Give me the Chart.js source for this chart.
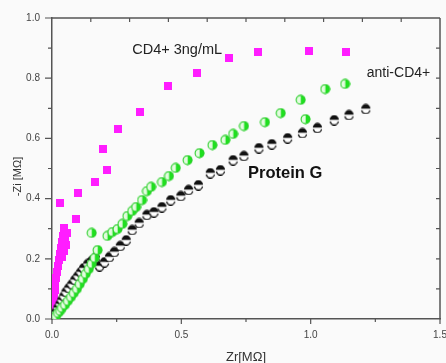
<!DOCTYPE html>
<html>
<head>
<meta charset="utf-8">
<script src="https://cdn.jsdelivr.net/npm/chart.js@4/dist/chart.umd.min.js"></script>
<style>
  html, body { margin: 0; padding: 0; background: #fafafa; }
  #wrap { width: 446px; height: 363px; }
</style>
</head>
<body>
<div id="wrap"><canvas id="c" width="446" height="363"></canvas></div>
<script>
// Nyquist data: Zr [MΩ] (x) against -Zi [MΩ] (y)
const seriesNames = ['CD4+ 3ng/mL', 'anti-CD4+', 'Protein G'];

const cd4X = [0.000, 0.004, 0.004, 0.008, 0.008, 0.011, 0.011, 0.015, 0.019, 0.023, 0.027, 0.031, 0.034, 0.038, 0.042, 0.046,
              0.040, 0.048, 0.055, 0.052, 0.058,
              0.092, 0.030, 0.100, 0.165, 0.214, 0.199, 0.256, 0.341, 0.448, 0.562, 0.685, 0.796, 0.995, 1.137];
const cd4Y = [0.000, 0.017, 0.037, 0.056, 0.076, 0.096, 0.116, 0.136, 0.156, 0.176, 0.196, 0.216, 0.236, 0.256, 0.276, 0.302,
              0.205, 0.225, 0.245, 0.265, 0.285,
              0.332, 0.385, 0.419, 0.455, 0.495, 0.565, 0.631, 0.688, 0.774, 0.817, 0.867, 0.887, 0.890, 0.887];

const antiX = [0.008, 0.015, 0.023, 0.031, 0.038, 0.050, 0.061, 0.073, 0.084, 0.096, 0.107, 0.119, 0.130, 0.142, 0.153, 0.165,
               0.176, 0.153, 0.214, 0.233, 0.253, 0.272, 0.291, 0.310, 0.325, 0.348, 0.367, 0.383, 0.425, 0.452, 0.478,
               0.524, 0.570, 0.620, 0.670, 0.700, 0.742, 0.823, 0.884, 0.961, 0.980, 1.056, 1.133];
const antiY = [0.003, 0.010, 0.020, 0.027, 0.037, 0.047, 0.060, 0.073, 0.086, 0.100, 0.116, 0.133, 0.150, 0.166, 0.183, 0.203,
               0.229, 0.286, 0.276, 0.289, 0.299, 0.316, 0.342, 0.359, 0.372, 0.395, 0.425, 0.439, 0.455, 0.475, 0.502,
               0.528, 0.551, 0.578, 0.595, 0.615, 0.641, 0.654, 0.684, 0.728, 0.664, 0.764, 0.781];

const protX = [0.004, 0.008, 0.015, 0.023, 0.031, 0.038, 0.046, 0.054, 0.065, 0.077, 0.088, 0.100, 0.111, 0.122, 0.138, 0.153,
               0.168, 0.184, 0.203, 0.222, 0.241, 0.264, 0.287, 0.310, 0.337, 0.367, 0.394, 0.425, 0.459, 0.498, 0.528,
               0.566, 0.612, 0.651, 0.700, 0.742, 0.800, 0.850, 0.911, 0.968, 1.026, 1.091, 1.148, 1.213];
const protY = [0.003, 0.013, 0.023, 0.037, 0.050, 0.063, 0.076, 0.090, 0.103, 0.116, 0.130, 0.143, 0.156, 0.169, 0.183, 0.193,
               0.203, 0.176, 0.189, 0.206, 0.223, 0.243, 0.262, 0.296, 0.319, 0.346, 0.355, 0.372, 0.395, 0.409, 0.429,
               0.445, 0.485, 0.495, 0.528, 0.542, 0.568, 0.581, 0.601, 0.618, 0.635, 0.661, 0.678, 0.698];

// axis tick values
const xMajorTicks = [0, 0.5, 1.0, 1.5];
const xMinorTicks = [0.25, 0.75, 1.25];
const yMajorTicks = [0, 0.2, 0.4, 0.6, 0.8, 1.0];
const yMinorTicks = [0.1, 0.3, 0.5, 0.7, 0.9];
const topTicks = [0.15, 0.30, 0.45, 0.60, 0.75, 0.90, 1.05, 1.20, 1.35];
const rightTicks = [0.1, 0.2, 0.3, 0.4, 0.5, 0.6, 0.7, 0.8, 0.9];

const toPoints = (xs, ys) => xs.map((x, i) => ({ x: x, y: ys[i] }));

// marker images
function squareMarker(color, size) {
  const c = document.createElement('canvas');
  c.width = size; c.height = size;
  const g = c.getContext('2d');
  g.fillStyle = color;
  g.fillRect(0, 0, size, size);
  return c;
}
function topHalfMarker() {
  const c = document.createElement('canvas');
  c.width = 11; c.height = 11;
  const g = c.getContext('2d');
  g.fillStyle = '#ffffff';
  g.beginPath(); g.arc(5.5, 6, 4.3, 0, Math.PI * 2); g.fill();
  g.fillStyle = '#111111';
  g.beginPath(); g.arc(5.5, 5.2, 4.6, Math.PI, Math.PI * 2); g.closePath(); g.fill();
  g.strokeStyle = '#111111'; g.lineWidth = 1.2;
  g.beginPath(); g.arc(5.5, 6.3, 4.1, 0.15, Math.PI - 0.15); g.stroke();
  return c;
}
function rightHalfMarker() {
  const c = document.createElement('canvas');
  c.width = 11; c.height = 11;
  const g = c.getContext('2d');
  g.fillStyle = '#e4fbe0';
  g.beginPath(); g.arc(5.5, 5.5, 4.5, 0, Math.PI * 2); g.fill();
  g.fillStyle = '#1fe01f';
  g.beginPath(); g.arc(5.7, 5.5, 4.7, -Math.PI / 2, Math.PI / 2); g.closePath(); g.fill();
  g.strokeStyle = '#2fd02f'; g.lineWidth = 1.1;
  g.beginPath(); g.arc(5.5, 5.5, 4.4, 0, Math.PI * 2); g.stroke();
  return c;
}

const FONT = "'Liberation Sans', Arial, sans-serif";

// frame, inward/outward ticks, y-axis title and series notes
const framePlugin = {
  id: 'frame',
  afterDraw(chart, args, opts) {
    const { ctx, chartArea: a, scales: { x, y } } = chart;
    ctx.save();
    ctx.strokeStyle = '#555';
    ctx.lineWidth = 1.5;
    ctx.beginPath();
    ctx.moveTo(a.left, a.top); ctx.lineTo(a.right, a.top);
    ctx.moveTo(a.right, a.top); ctx.lineTo(a.right, a.bottom);
    ctx.stroke();
    ctx.lineWidth = 1.2;
    ctx.beginPath();
    xMajorTicks.forEach(v => { const p = x.getPixelForValue(v); ctx.moveTo(p, a.bottom); ctx.lineTo(p, a.bottom + 5); });
    xMinorTicks.forEach(v => { const p = x.getPixelForValue(v); ctx.moveTo(p, a.bottom); ctx.lineTo(p, a.bottom + 3); });
    yMajorTicks.forEach(v => { const p = y.getPixelForValue(v); ctx.moveTo(a.left, p); ctx.lineTo(a.left - 7, p); });
    yMinorTicks.forEach(v => { const p = y.getPixelForValue(v); ctx.moveTo(a.left, p); ctx.lineTo(a.left - 4, p); });
    topTicks.forEach(v => { const p = x.getPixelForValue(v); ctx.moveTo(p, a.top); ctx.lineTo(p, a.top + 4); });
    rightTicks.forEach(v => { const p = y.getPixelForValue(v); ctx.moveTo(a.right, p); ctx.lineTo(a.right - 4, p); });
    ctx.stroke();

    // y-axis title
    ctx.fillStyle = '#333';
    ctx.font = '11px ' + FONT;
    ctx.textAlign = 'center';
    ctx.textBaseline = 'middle';
    ctx.translate(opts.yTitleX, (a.top + a.bottom) / 2 + opts.yTitleShift);
    ctx.rotate(-Math.PI / 2);
    ctx.fillText(opts.yTitle, 0, 0);
    ctx.setTransform(1, 0, 0, 1, 0, 0);

    // series notes
    ctx.textAlign = 'left';
    opts.notes.forEach(n => {
      ctx.font = n.font;
      ctx.fillStyle = n.color;
      ctx.fillText(n.text, x.getPixelForValue(n.x), y.getPixelForValue(n.y));
    });
    ctx.restore();
  }
};

new Chart(document.getElementById('c'), {
  type: 'scatter',
  data: {
    datasets: [
      { label: seriesNames[1], data: toPoints(antiX, antiY), pointStyle: rightHalfMarker(), pointRadius: 5 },
      { label: seriesNames[2], data: toPoints(protX, protY), pointStyle: topHalfMarker(), pointRadius: 5 },
      { label: seriesNames[0], data: toPoints(cd4X, cd4Y), pointStyle: squareMarker('#ff1dff', 8), pointRadius: 4 }
    ]
  },
  options: {
    responsive: false,
    animation: false,
    events: [],
    layout: { padding: { top: 18, right: 2, left: 0, bottom: 0 } },
    plugins: {
      legend: { display: false },
      tooltip: { enabled: false },
      frame: {
        yTitle: '-Zi [MΩ]',
        yTitleX: 18,
        yTitleShift: 8,
        notes: [
          { text: seriesNames[0], x: 0.31, y: 0.894, font: '14.5px ' + FONT, color: '#222' },
          { text: seriesNames[1], x: 1.217, y: 0.817, font: '14px ' + FONT, color: '#222' },
          { text: seriesNames[2], x: 0.758, y: 0.485, font: 'bold 16.5px ' + FONT, color: '#111' }
        ]
      }
    },
    scales: {
      x: {
        type: 'linear', position: 'bottom', min: 0, max: 1.5,
        grid: { display: false, drawTicks: false },
        border: { display: true, color: '#555', width: 1.5 },
        ticks: {
          stepSize: 0.5, padding: 10, maxRotation: 0, autoSkip: false, color: '#444',
          font: { size: 10, family: FONT },
          callback: v => v.toFixed(1)
        },
        title: { display: true, text: 'Zr[MΩ]', color: '#333', font: { size: 13, family: FONT }, padding: { top: 0, bottom: -2 } },
        afterFit(s) { s.height = 44; s.paddingLeft = 0; s.paddingRight = 0; }
      },
      y: {
        type: 'linear', position: 'left', min: 0, max: 1.0,
        grid: { display: false, drawTicks: false },
        border: { display: true, color: '#555', width: 1.5 },
        ticks: {
          stepSize: 0.2, padding: 12, color: '#444',
          font: { size: 10, family: FONT },
          callback: v => v.toFixed(1)
        },
        afterFit(s) { s.width = 52; s.paddingTop = 0; s.paddingBottom = 0; }
      }
    }
  },
  plugins: [framePlugin]
});
</script>
</body>
</html>
